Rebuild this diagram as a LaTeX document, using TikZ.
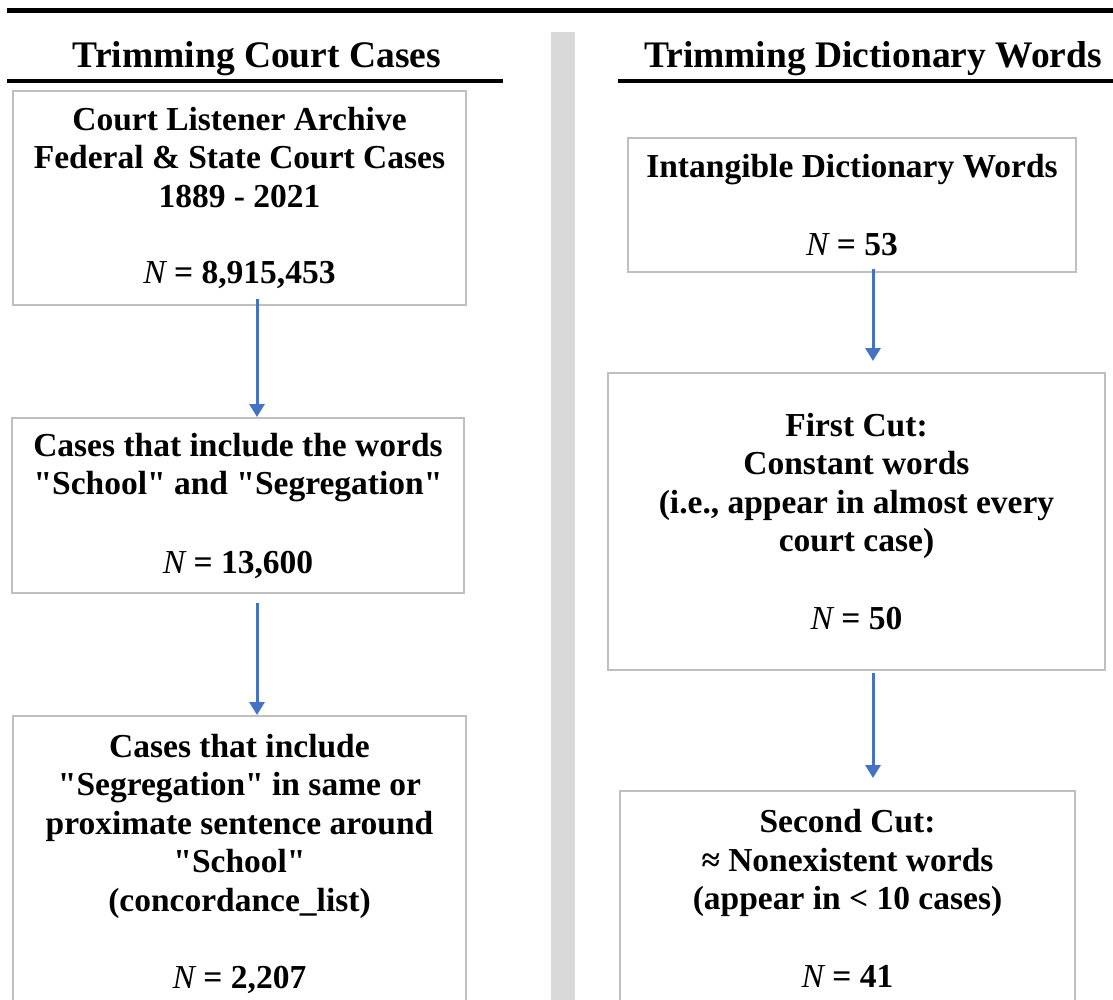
\documentclass[tikz,border=0pt]{standalone}
\usepackage{fontspec}
\setmainfont{Liberation Serif}
\usetikzlibrary{arrows.meta,positioning}
\definecolor{boxgray}{HTML}{BFBFBF}
\definecolor{bargray}{HTML}{D9D9D9}
\definecolor{flowblue}{HTML}{4472C4}

\begin{document}
\begin{tikzpicture}[
  x=1pt, y=-1pt,
  font=\bfseries\fontsize{33.5}{38.5}\selectfont,
  stage/.style={draw=boxgray, line width=2pt, align=center, inner sep=0pt},
  heading/.style={font=\bfseries\fontsize{37.5}{44}\selectfont, anchor=base},
  flow/.style={flowblue, line width=3pt, -{Triangle[length=13pt, width=15pt]}},
  rule/.style={line width=4.5pt}
]
\path[use as bounding box, fill=white] (0,0) rectangle (1113,1000);

% frame: top rule, separator bar, column headings
\draw[rule] (7,10.5) -- (1113,10.5);
\fill[bargray] (551,32) rectangle (575,1000);
\node[heading] (lhead) at (257,68) {Trimming Court Cases};
\node[heading] (rhead) at (873,68) {Trimming Dictionary Words};
\draw[rule] (7,81) -- (503,81);
\draw[rule] (618,81) -- (1113,81);

% court cases
\node[stage, minimum width=453pt, minimum height=214pt] (archive) at (239.5,198)
  {Court Listener Archive\\Federal \& State Court Cases\\1889 - 2021\\[38pt]{\mdseries\itshape N} = 8,915,453};
\node[stage, minimum width=452pt, minimum height=175pt, below=111pt of archive, xshift=-1.5pt] (keywords)
  {Cases that include the words\\\textquotedbl School\textquotedbl{} and \textquotedbl Segregation\textquotedbl\\[40pt]{\mdseries\itshape N} = 13,600};
\node[stage, minimum width=453pt, minimum height=296pt, below=121pt of keywords, xshift=1.5pt] (proximity)
  {Cases that include\\\textquotedbl Segregation\textquotedbl{} in same or\\proximate sentence around\\\textquotedbl School\textquotedbl\\(concordance\_list)\\[39pt]{\mdseries\itshape N} = 2,207};

% dictionary words
\node[stage, minimum width=448pt, minimum height=134pt] (intangible) at (852,205)
  {Intangible Dictionary Words\\[39pt]{\mdseries\itshape N} = 53};
\node[stage, minimum width=497pt, minimum height=297pt, below=99pt of intangible, xshift=4.5pt] (firstcut)
  {First Cut:\\Constant words\\(i.e., appear in almost every\\court case)\\[39pt]{\mdseries\itshape N} = 50};
\node[stage, minimum width=455pt, minimum height=215pt, below=119pt of firstcut, xshift=-9pt] (secondcut)
  {Second Cut:\\≈ Nonexistent words\\(appear in < 10 cases)\\[39pt]{\mdseries\itshape N} = 41};

\draw[flow, shorten <=-7pt] (archive.south -| lhead) -- (keywords.north -| lhead);
\draw[flow, shorten <=9pt] (keywords.south -| lhead) -- (proximity.north -| lhead);
\draw[flow, shorten <=-4pt, shorten >=11pt] (intangible.south -| rhead) -- (firstcut.north -| rhead);
\draw[flow, shorten <=2pt, shorten >=12pt] (firstcut.south -| rhead) -- (secondcut.north -| rhead);
\end{tikzpicture}
\end{document}
